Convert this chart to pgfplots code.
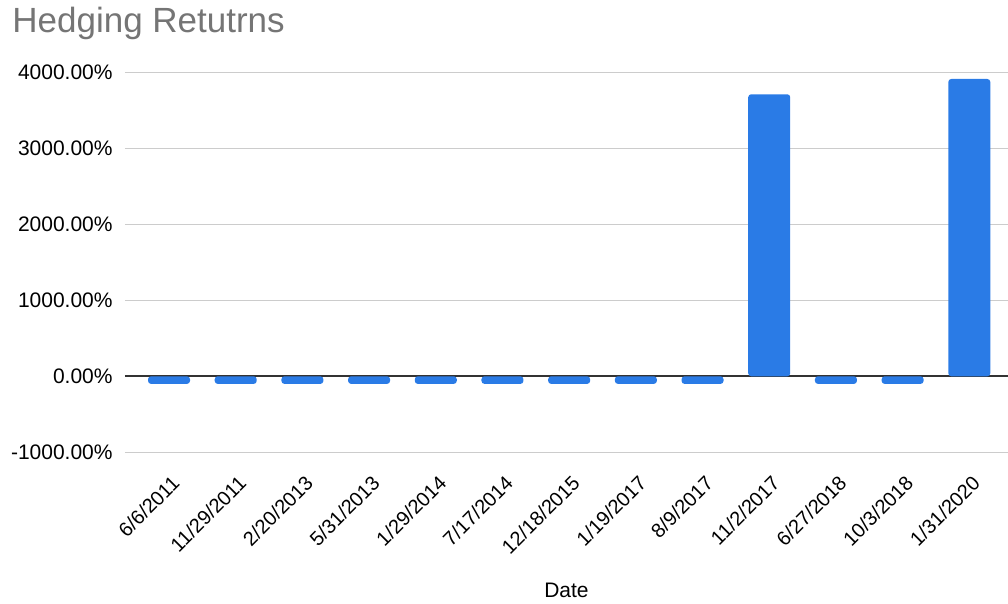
\documentclass[border=0pt]{standalone}
\usepackage{pgfplots}
\pgfplotsset{compat=1.18}
\usepackage{fontspec}
\setmainfont{Liberation Sans}
\definecolor{barblue}{HTML}{2A7BE6}
\definecolor{gridgray}{HTML}{CCCCCC}
\definecolor{zerogray}{HTML}{333333}
\definecolor{titlegray}{HTML}{757575}
\begin{document}
\begin{tikzpicture}
\useasboundingbox (-62.5bp,-75.85bp) rectangle (441.5bp,226.15bp);
\begin{axis}[
  at={(0,0)}, anchor=south west,
  scale only axis,
  width=441.5bp, height=190bp,
  xmin=-0.66, xmax=12.58,
  ymin=-1000, ymax=4000,
  ytick={-1000,1000,2000,3000,4000},
  extra y ticks={0},
  extra y tick style={grid style={draw=zerogray, line width=1pt}},
  ymajorgrids,
  grid style={draw=gridgray, line width=0.6pt},
  axis line style={draw=none},
  tick style={draw=none},
  xtick=data,
  xticklabels={6/6/2011,11/29/2011,2/20/2013,5/31/2013,1/29/2014,7/17/2014,12/18/2015,1/19/2017,8/9/2017,11/2/2017,6/27/2018,10/3/2018,1/31/2020},
  /pgf/number format/assume math mode=true,
  yticklabel={\pgfmathprintnumber[fixed,fixed zerofill,precision=2,1000 sep={}]{\tick}\%},
  ticklabel style={font=\fontsize{10.5bp}{12bp}\selectfont, text=black},
  yticklabel style={anchor=east, inner sep=0pt, xshift=-6bp},
  xticklabel style={rotate=45, anchor=east, inner sep=0pt, xshift=-4bp, yshift=-9bp, font=\fontsize{10bp}{12bp}\selectfont},
  xlabel={Date},
  xlabel style={at={(axis description cs:0.5,0)}, anchor=base, yshift=-72.35bp, inner sep=0pt, font=\fontsize{10.5bp}{12bp}\selectfont},
  ybar, bar width=21bp,
]
\addplot[fill=barblue, draw=none, rounded corners=1.5bp] coordinates {
(0,-100) (1,-100) (2,-100) (3,-100) (4,-100) (5,-100) (6,-100) (7,-100) (8,-100)
(9,3711) (10,-100) (11,-100) (12,3912)
};
\end{axis}
\node[anchor=base west, inner sep=0pt, text=titlegray, font=\fontsize{17.5bp}{20bp}\selectfont] at (-56.5bp,209.65bp) {Hedging Retutrns};
\end{tikzpicture}
\end{document}
